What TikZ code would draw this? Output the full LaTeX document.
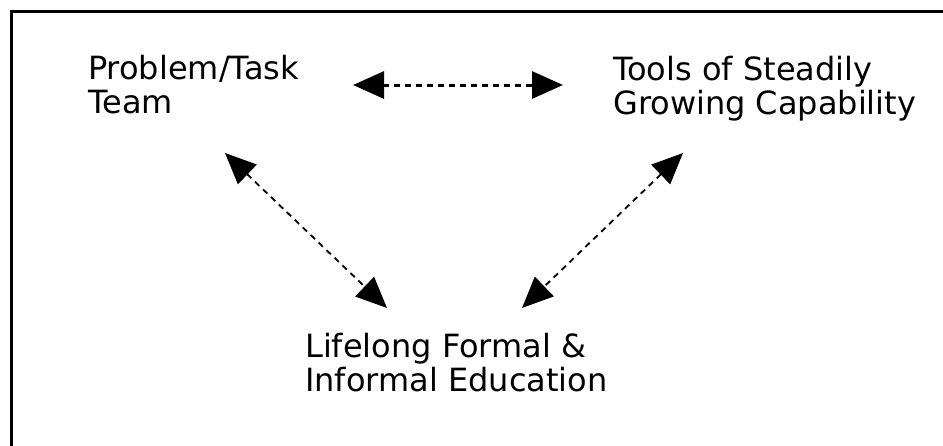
\documentclass[tikz,border=0pt]{standalone}
\usepackage{fontspec}
\setmainfont{DejaVu Sans}
\usetikzlibrary{arrows.meta}
\begin{document}
\begin{tikzpicture}[x=1pt,y=-1pt,
  label/.style={anchor=base west,inner sep=0pt,align=left,
    font=\fontsize{32}{33.5}\selectfont},
  conn/.style={{Triangle[length=31pt,width=27pt]}-{Triangle[length=31pt,width=27pt]},
    dash pattern=on 6pt off 5pt},
  thick conn/.style={conn,line width=3pt},
  thin conn/.style={conn,line width=1.8pt}]
\useasboundingbox (0,0) rectangle (943,445);
\clip (0,0) rectangle (943,445);
\fill[white] (0,0) rectangle (943,445);
\draw[line width=3pt] (11,11.5) rectangle (1000,500);

% base anchor = baseline of the last line
\node[label] (ptt) at (88,113) {Problem/Task\\Team};
\node[label] (tools) at (613,114) {Tools of Steadily\\Growing Capability};
\node[label] (edu) at (305,391) {Lifelong Formal \&\\Informal Education};

\coordinate (ptt-r) at (353,85);
\coordinate (tools-l) at (563,85);
\coordinate (ptt-b) at (225,153);
\coordinate (edu-l) at (387,308);
\coordinate (tools-b) at (683,153);
\coordinate (edu-r) at (522,308);

\draw[thick conn] (ptt-r) -- (tools-l);
\draw[thin conn] (ptt-b) -- (edu-l);
\draw[thin conn] (tools-b) -- (edu-r);
\end{tikzpicture}
\end{document}
